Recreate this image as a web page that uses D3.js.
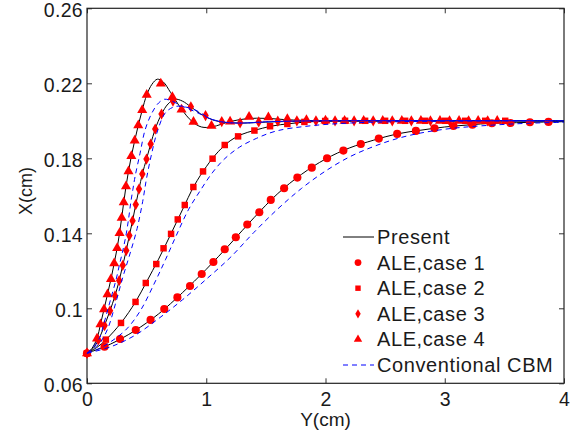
<!DOCTYPE html>
<html>
<head>
<meta charset="utf-8">
<script src="https://cdn.jsdelivr.net/npm/d3@7"></script>
<style>
  html, body { margin: 0; padding: 0; background: #fff; }
  svg { display: block; font-family: "Liberation Sans", Arial, Helvetica, sans-serif; }
  .tick text { font-size: 19.5px; fill: #1a1a1a; letter-spacing: 0.3px; }
  .tick line { stroke: #333; }
</style>
</head>
<body>
<div id="chart"></div>
<script>
// Oscillation of X against Y: present method, ALE cases 1-4 and conventional CBM

const xTicks = [0, 1, 2, 3, 4];
const xTickLabels = ['0', '1', '2', '3', '4'];
const yTicks = [0.06, 0.1, 0.14, 0.18, 0.22, 0.26];
const yTickLabels = ['0.06', '0.1', '0.14', '0.18', '0.22', '0.26'];
const legendLabels = ['Present', 'ALE,case 1', 'ALE,case 2', 'ALE,case 3', 'ALE,case 4', 'Conventional CBM'];

// present method, one curve per case  [Y, X]
const presentCase1 = [[0,0.076],[0.2,0.081],[0.4,0.088],[0.6,0.097],[0.8,0.1083],[1.0,0.1208],[1.2,0.1343],[1.4,0.1483],[1.6,0.1612],[1.8,0.1715],[2.0,0.1796],[2.2,0.1855],[2.4,0.1896],[2.6,0.1930],[2.8,0.1950],[3.0,0.1967],[3.2,0.1978],[3.4,0.1987],[3.6,0.1990],[3.8,0.1993],[4.0,0.1995]];
const presentCase2 = [[0,0.076],[0.08,0.0790],[0.16,0.0833],[0.285,0.0922],[0.407,0.1034],[0.5,0.1142],[0.6,0.1262],[0.7,0.1392],[0.8,0.1525],[0.9,0.1655],[1.0,0.1755],[1.1,0.1835],[1.2,0.1893],[1.3,0.1928],[1.4,0.1948],[1.55,0.1972],[1.7,0.1985],[1.85,0.1994],[2.0,0.1998],[2.5,0.2],[4,0.2]];
const presentCase3 = [[0,0.076],[0.05,0.0785],[0.095,0.0831],[0.147,0.0908],[0.193,0.0987],[0.235,0.1067],[0.27,0.1148],[0.3,0.1229],[0.329,0.1308],[0.355,0.1388],[0.382,0.1467],[0.409,0.1553],[0.436,0.1636],[0.464,0.1716],[0.499,0.1796],[0.534,0.1876],[0.572,0.1956],[0.625,0.2036],[0.68,0.2090],[0.74,0.2115],[0.80,0.2105],[0.87,0.2075],[0.95,0.2038],[1.05,0.2006],[1.15,0.1992],[1.3,0.1988],[1.5,0.1993],[1.8,0.1998],[2.2,0.2],[4,0.2]];
const presentCase4 = [[0,0.076],[0.04,0.0785],[0.084,0.0839],[0.113,0.0915],[0.143,0.0995],[0.172,0.1075],[0.201,0.1156],[0.228,0.124],[0.253,0.1321],[0.273,0.1401],[0.291,0.1483],[0.308,0.1565],[0.327,0.165],[0.348,0.1731],[0.372,0.1812],[0.4,0.1894],[0.43,0.1976],[0.463,0.2057],[0.501,0.2138],[0.545,0.2195],[0.59,0.2222],[0.64,0.2207],[0.70,0.2152],[0.793,0.2062],[0.88,0.1997],[0.96,0.1967],[1.05,0.1968],[1.2,0.1996],[1.35,0.2012],[1.5,0.2013],[1.7,0.2005],[2.0,0.2],[4,0.2]];

// ALE markers
const aleCase1 = [[0,0.076],[0.147,0.0795],[0.277,0.0836],[0.409,0.0884],[0.533,0.0938],[0.648,0.0996],[0.758,0.1058],[0.864,0.1119],[0.962,0.1183],[1.060,0.1247],[1.155,0.1315],[1.248,0.1379],[1.344,0.1447],[1.445,0.1512],[1.541,0.1578],[1.653,0.1640],[1.764,0.1697],[1.885,0.1750],[2.013,0.1800],[2.150,0.1841],[2.296,0.1876],[2.447,0.1905],[2.601,0.1930],[2.758,0.1946],[2.914,0.1960],[3.073,0.1972],[3.232,0.1979],[3.395,0.1987],[3.551,0.1988],[3.714,0.1992],[3.870,0.1994]];
const aleCase2 = [[0,0.076],[0.158,0.0833],[0.285,0.0922],[0.407,0.1034],[0.493,0.1135],[0.581,0.1236],[0.642,0.1320],[0.705,0.1397],[0.761,0.1474],[0.820,0.1551],[0.892,0.1647],[0.973,0.1730],[1.053,0.1798],[1.155,0.1871],[1.267,0.1917],[1.404,0.1948],[1.535,0.1971],[1.680,0.1983],[1.823,0.1994],[1.997,0.1999],[2.164,0.2],[2.332,0.2],[2.5,0.2],[2.668,0.2],[2.836,0.2],[3.003,0.2],[3.171,0.2],[3.339,0.2],[3.507,0.2]];
const aleCase3 = [[0,0.076],[0.095,0.0831],[0.147,0.0908],[0.193,0.0987],[0.235,0.1067],[0.270,0.1148],[0.300,0.1229],[0.329,0.1308],[0.355,0.1388],[0.382,0.1467],[0.409,0.1553],[0.436,0.1636],[0.464,0.1716],[0.499,0.1796],[0.534,0.1876],[0.572,0.1956],[0.625,0.2036],[0.721,0.2105],[0.871,0.2075],[0.994,0.2028],[1.130,0.1996],[1.284,0.1989],[1.44,0.1994],[1.60,0.1998],[1.76,0.2],[1.92,0.2],[2.08,0.2],[2.24,0.2],[2.40,0.2],[2.56,0.2],[2.72,0.2],[2.88,0.2],[3.04,0.2],[3.20,0.2],[3.36,0.2]];
const aleCase4 = [[0,0.076],[0.084,0.0839],[0.113,0.0915],[0.143,0.0995],[0.172,0.1075],[0.201,0.1156],[0.228,0.1240],[0.253,0.1321],[0.273,0.1401],[0.291,0.1483],[0.308,0.1565],[0.327,0.1650],[0.348,0.1731],[0.372,0.1812],[0.400,0.1894],[0.430,0.1976],[0.463,0.2057],[0.501,0.2138],[0.619,0.2199],[0.716,0.2127],[0.793,0.2060],[0.893,0.1995],[1.044,0.1973],[1.200,0.1996],[1.359,0.2021],[1.521,0.2018],[1.68,0.2009],[1.84,0.2004],[2.00,0.2001],[2.16,0.2],[2.32,0.2],[2.48,0.2],[2.64,0.2],[2.80,0.2],[2.96,0.2],[3.12,0.2],[3.28,0.2],[3.44,0.2]];

// conventional CBM
const cbmCase1 = [[0,0.076],[0.2,0.0795],[0.4,0.0855],[0.6,0.0945],[0.8,0.1045],[1.0,0.1155],[1.2,0.127],[1.4,0.1405],[1.6,0.153],[1.8,0.164],[2.0,0.1732],[2.2,0.1807],[2.4,0.1862],[2.6,0.1905],[2.8,0.1935],[3.0,0.1955],[3.2,0.1968],[3.4,0.1977],[3.6,0.1984],[3.8,0.1989],[4.0,0.1992]];
const cbmCase2 = [[0,0.076],[0.1,0.0785],[0.2,0.0822],[0.333,0.0890],[0.45,0.0990],[0.57,0.1140],[0.66,0.1262],[0.75,0.1390],[0.85,0.1525],[0.95,0.1628],[1.05,0.1722],[1.15,0.1795],[1.28,0.1860],[1.42,0.1906],[1.59,0.1946],[1.87,0.1973],[2.2,0.1988],[2.6,0.1995],[3.0,0.1998],[4.0,0.2]];
const cbmCase3 = [[0,0.076],[0.1,0.081],[0.17,0.0885],[0.24,0.1027],[0.3,0.1165],[0.36,0.129],[0.42,0.1425],[0.467,0.157],[0.5,0.1695],[0.543,0.1827],[0.585,0.1933],[0.654,0.204],[0.72,0.2072],[0.78,0.2078],[0.906,0.2058],[1.046,0.2008],[1.15,0.1992],[1.3,0.1988],[1.5,0.1995],[1.8,0.1999],[4,0.2]];
const cbmCase4 = [[0,0.076],[0.1,0.0835],[0.14,0.0915],[0.175,0.0995],[0.21,0.1075],[0.245,0.1156],[0.275,0.124],[0.305,0.1321],[0.33,0.1401],[0.35,0.1483],[0.366,0.156],[0.385,0.1635],[0.403,0.1702],[0.445,0.1827],[0.487,0.1951],[0.543,0.204],[0.6,0.2095],[0.65,0.2115],[0.7,0.2108],[0.8,0.2078],[0.906,0.2049],[1.046,0.2008],[1.15,0.1993],[1.3,0.1988],[1.5,0.1994],[1.8,0.1999],[4,0.2]];

const width = 579, height = 437;
const margin = { top: 8.3, right: 15, bottom: 53.7, left: 87 };
const w = width - margin.left - margin.right;
const h = height - margin.top - margin.bottom;

const cases = [
  { present: presentCase1, ale: aleCase1, cbm: cbmCase1, symbol: d3.symbolCircle, size: 52 },
  { present: presentCase2, ale: aleCase2, cbm: cbmCase2, symbol: d3.symbolSquare, size: 42 },
  { present: presentCase3, ale: aleCase3, cbm: cbmCase3, symbol: d3.symbolDiamond, size: 36 },
  { present: presentCase4, ale: aleCase4, cbm: cbmCase4, symbol: d3.symbolTriangle, size: 44 },
];

const svg = d3.select('#chart').append('svg')
  .attr('width', width)
  .attr('height', height);

const g = svg.append('g').attr('transform', `translate(${margin.left},${margin.top})`);

const x = d3.scaleLinear().domain([0, 4]).range([0, w]);
const y = d3.scaleLinear().domain([0.06, 0.26]).range([h, 0]);

// axes with inward ticks on all four sides (box style)
g.append('g')
  .attr('transform', `translate(0,${h})`)
  .call(d3.axisBottom(x).tickValues(xTicks).tickFormat((d, i) => xTickLabels[i])
    .tickSizeInner(-5).tickSizeOuter(0).tickPadding(8.5));
const yAxis = g.append('g')
  .call(d3.axisLeft(y).tickValues(yTicks).tickFormat((d, i) => yTickLabels[i])
    .tickSizeInner(-5).tickSizeOuter(0).tickPadding(4));
yAxis.selectAll('.tick text').attr('y', 1.5);
g.append('g')
  .call(d3.axisTop(x).tickValues(xTicks).tickFormat('').tickSizeInner(-5).tickSizeOuter(0));
g.append('g')
  .attr('transform', `translate(${w},0)`)
  .call(d3.axisRight(y).tickValues(yTicks).tickFormat('').tickSizeInner(-5).tickSizeOuter(0));
g.selectAll('.domain').remove();
g.selectAll('.tick text').attr('font-family', null).attr('font-size', null);

g.append('rect')
  .attr('width', w).attr('height', h)
  .attr('fill', 'none').attr('stroke', '#222').attr('stroke-width', 1.2);

const line = d3.line()
  .x(d => x(d[0]))
  .y(d => y(d[1]))
  .curve(d3.curveCatmullRom.alpha(0.5));

const plot = g.append('g');

cases.forEach(c => {
  plot.append('path')
    .attr('d', line(c.present))
    .attr('fill', 'none').attr('stroke', '#000').attr('stroke-width', 1);
});

cases.forEach(c => {
  plot.append('g').selectAll('path')
    .data(c.ale)
    .join('path')
    .attr('transform', d => `translate(${x(d[0])},${y(d[1])})`)
    .attr('d', d3.symbol().type(c.symbol).size(c.size))
    .attr('fill', '#ff0000');
});

cases.forEach(c => {
  plot.append('path')
    .attr('d', line(c.cbm))
    .attr('fill', 'none').attr('stroke', '#0000ff').attr('stroke-width', 1)
    .attr('stroke-dasharray', '5,4');
});

// axis titles
svg.append('text')
  .attr('x', margin.left + x(2)).attr('y', 426)
  .attr('text-anchor', 'middle').attr('font-size', 19).attr('fill', '#1a1a1a')
  .text('Y(cm)');
svg.append('text')
  .attr('transform', `translate(32,191) rotate(-90)`)
  .attr('text-anchor', 'middle').attr('font-size', 18).attr('fill', '#1a1a1a')
  .text('X(cm)');

// legend, no frame
const legend = svg.append('g');
const rowY = i => 237 + i * 25.6;
legendLabels.forEach((label, i) => {
  const row = legend.append('g').attr('transform', `translate(0,${rowY(i)})`);
  if (i === 0) {
    row.append('line').attr('x1', 343).attr('x2', 374)
      .attr('stroke', '#000').attr('stroke-width', 1);
  } else if (i === legendLabels.length - 1) {
    row.append('line').attr('x1', 343).attr('x2', 374)
      .attr('stroke', '#0000ff').attr('stroke-width', 1).attr('stroke-dasharray', '5,4');
  } else {
    row.append('path')
      .attr('transform', 'translate(358,0)')
      .attr('d', d3.symbol().type(cases[i - 1].symbol).size(cases[i - 1].size * 0.7))
      .attr('fill', '#ff0000');
  }
  row.append('text')
    .attr('x', 377).attr('dy', '0.35em')
    .attr('font-size', 20).attr('letter-spacing', 0.6).attr('fill', '#1a1a1a')
    .text(label);
});
</script>
</body>
</html>
